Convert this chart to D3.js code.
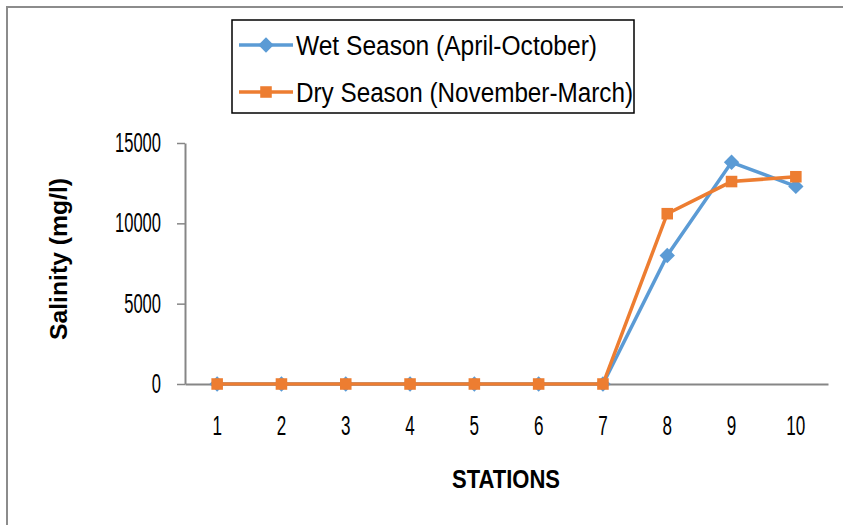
<!DOCTYPE html>
<html>
<head>
<meta charset="utf-8">
<script src="https://cdn.jsdelivr.net/npm/d3@7"></script>
<style>
  body { margin: 0; background: #fff; }
  svg { display: block; font-family: "Liberation Sans", Arial, sans-serif; }
</style>
</head>
<body>
<div id="chart"></div>
<script>
let stations = ["1", "2", "3", "4", "5", "6", "7", "8", "9", "10"]
let wetSeason = [0, 0, 0, 0, 0, 0, 0, 8000, 13800, 12300]
let drySeason = [0, 0, 0, 0, 0, 0, 0, 10600, 12600, 12900]
let yTicks = [0, 5000, 10000, 15000]
let seriesNames = ["Wet Season (April-October)", "Dry Season (November-March)"]

let width = 843, height = 525
let plot = { left: 185, right: 828, top: 143, bottom: 384 }

const svg = d3.select("#chart")
  .append("svg")
  .attr("width", width)
  .attr("height", height)

// outer frame (only left and top edges show)
svg.append("path")
  .attr("d", `M7,${height} L7,7 L${width},7`)
  .attr("fill", "none")
  .attr("stroke", "#8c8c8c")
  .attr("stroke-width", 2)

let x = d3.scaleBand()
  .domain(stations)
  .range([plot.left, plot.right])

let y = d3.scaleLinear()
  .domain([0, 15000])
  .range([plot.bottom, plot.top])

// condensed look: squeeze glyphs to ~9px per digit
function narrow(sel, perChar) {
  sel.attr("font-size", 27)
    .attr("fill", "#000")
    .attr("font-family", "Liberation Sans, Arial, sans-serif")
    .attr("textLength", function () { return this.textContent.length * perChar })
    .attr("lengthAdjust", "spacingAndGlyphs")
}

// y axis
let yAxis = svg.append("g")
  .attr("transform", `translate(${plot.left},0)`)
  .call(d3.axisLeft(y).tickValues(yTicks).tickFormat(d3.format("d")).tickSize(8).tickPadding(16).tickSizeOuter(0))
yAxis.select(".domain").attr("stroke", "#868686").attr("stroke-width", 2)
yAxis.selectAll(".tick line").attr("stroke", "#868686").attr("stroke-width", 1.5)
yAxis.selectAll(".tick text").call(narrow, 9.2)

// x axis
let xAxis = svg.append("g")
  .attr("transform", `translate(0,${plot.bottom})`)
  .call(d3.axisBottom(x).tickSize(0).tickPadding(32).tickSizeOuter(0))
xAxis.select(".domain").attr("stroke", "#868686").attr("stroke-width", 2)
xAxis.selectAll(".tick text").call(narrow, 9.5)

// axis titles
svg.append("text")
  .attr("x", 506)
  .attr("y", 488)
  .attr("text-anchor", "middle")
  .attr("font-size", 26)
  .attr("font-weight", "bold")
  .attr("textLength", 108)
  .attr("lengthAdjust", "spacingAndGlyphs")
  .text("STATIONS")

svg.append("text")
  .attr("transform", `translate(67,259) rotate(-90)`)
  .attr("text-anchor", "middle")
  .attr("font-size", 24)
  .attr("font-weight", "bold")
  .attr("textLength", 162)
  .attr("lengthAdjust", "spacingAndGlyphs")
  .text("Salinity (mg/l)")

let cx = d => x(d) + x.bandwidth() / 2
let line = d3.line()
  .x((d, i) => cx(stations[i]))
  .y(d => y(d))

let colors = ["#5b9bd5", "#ed7d31"]
let diamond = d3.symbol().type(d3.symbolDiamond2).size(150)
let square = d3.symbol().type(d3.symbolSquare2).size(170)

// wet season
svg.append("path")
  .datum(wetSeason)
  .attr("d", line)
  .attr("fill", "none")
  .attr("stroke", colors[0])
  .attr("stroke-width", 3.5)
svg.selectAll(".wet")
  .data(wetSeason)
  .join("path")
  .attr("class", "wet")
  .attr("transform", (d, i) => `translate(${cx(stations[i])},${y(d)})`)
  .attr("d", diamond)
  .attr("fill", colors[0])

// dry season
svg.append("path")
  .datum(drySeason)
  .attr("d", line)
  .attr("fill", "none")
  .attr("stroke", colors[1])
  .attr("stroke-width", 3.5)
svg.selectAll(".dry")
  .data(drySeason)
  .join("path")
  .attr("class", "dry")
  .attr("transform", (d, i) => `translate(${cx(stations[i])},${y(d)})`)
  .attr("d", square)
  .attr("fill", colors[1])

// legend
let legend = svg.append("g")
svg.append("rect")
  .attr("x", 232).attr("y", 20)
  .attr("width", 402).attr("height", 93)
  .attr("fill", "none")
  .attr("stroke", "#000")
  .attr("stroke-width", 1.5)

let legendRows = [45, 92]
seriesNames.forEach((name, i) => {
  let g = legend.append("g").attr("transform", `translate(0,${legendRows[i]})`)
  g.append("line")
    .attr("x1", 239).attr("x2", 293)
    .attr("stroke", colors[i]).attr("stroke-width", 3.5)
  g.append("path")
    .attr("transform", "translate(266,0)")
    .attr("d", i === 0 ? diamond : square)
    .attr("fill", colors[i])
  g.append("text")
    .attr("x", 296)
    .attr("y", 10)
    .attr("font-size", 27)
    .attr("textLength", i === 0 ? 301 : 337)
    .attr("lengthAdjust", "spacingAndGlyphs")
    .text(name)
})
</script>
</body>
</html>
